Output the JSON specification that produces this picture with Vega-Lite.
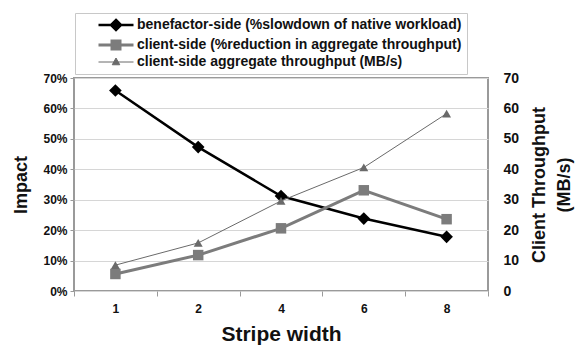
{
  "$schema": "https://vega.github.io/schema/vega-lite/v6.json",
  "width": 414,
  "height": 213,
  "autosize": {"type": "none"},
  "padding": {"left": 74, "top": 78, "right": 87, "bottom": 59},
  "background": "white",
  "datasets": {
    "impact": [
      {"stripe": 1, "series": "benefactor-side (%slowdown of native workload)", "value": 0.659},
      {"stripe": 2, "series": "benefactor-side (%slowdown of native workload)", "value": 0.473},
      {"stripe": 4, "series": "benefactor-side (%slowdown of native workload)", "value": 0.312},
      {"stripe": 6, "series": "benefactor-side (%slowdown of native workload)", "value": 0.238},
      {"stripe": 8, "series": "benefactor-side (%slowdown of native workload)", "value": 0.178},
      {"stripe": 1, "series": "client-side (%reduction in aggregate throughput)", "value": 0.056},
      {"stripe": 2, "series": "client-side (%reduction in aggregate throughput)", "value": 0.118},
      {"stripe": 4, "series": "client-side (%reduction in aggregate throughput)", "value": 0.206},
      {"stripe": 6, "series": "client-side (%reduction in aggregate throughput)", "value": 0.331},
      {"stripe": 8, "series": "client-side (%reduction in aggregate throughput)", "value": 0.236}
    ],
    "throughput": [
      {"stripe": 1, "series": "client-side aggregate throughput (MB/s)", "value": 8.5},
      {"stripe": 2, "series": "client-side aggregate throughput (MB/s)", "value": 15.8},
      {"stripe": 4, "series": "client-side aggregate throughput (MB/s)", "value": 29.6},
      {"stripe": 6, "series": "client-side aggregate throughput (MB/s)", "value": 40.6},
      {"stripe": 8, "series": "client-side aggregate throughput (MB/s)", "value": 58.3}
    ]
  },
  "config": {
    "font": "Liberation Sans",
    "view": {"stroke": "#9a9a9a", "strokeWidth": 2},
    "axis": {"labelFont": "Liberation Sans", "titleFont": "Liberation Sans", "labelFontWeight": "bold", "titleFontWeight": "bold", "labelColor": "#111", "titleColor": "#111"}
  },
  "encoding": {
    "x": {
      "field": "stripe", "type": "ordinal",
      "scale": {"type": "band", "paddingInner": 0, "paddingOuter": 0},
      "axis": {"title": "Stripe width", "labelAngle": 0, "labelFontSize": 12, "titleFontSize": 21, "titlePadding": 9, "labelPadding": 7, "tickBand": "extent", "tickColor": "#9a9a9a", "tickSize": 5, "domain": false, "grid": false}
    },
    "color": {
      "field": "series", "type": "nominal",
      "scale": {
        "domain": ["benefactor-side (%slowdown of native workload)", "client-side (%reduction in aggregate throughput)", "client-side aggregate throughput (MB/s)"],
        "range": ["#000000", "#7c7c7c", "#6a6a6a"]
      },
      "legend": {
        "orient": "none", "legendX": 1, "legendY": -65, "title": null,
        "padding": 5, "strokeColor": "#c8c8c8", "fillColor": "white",
        "labelFont": "Liberation Sans", "labelFontWeight": "bold", "labelFontSize": 14, "labelColor": "#111", "labelLimit": 400,
        "labelExpr": "datum.label + '      '",
        "symbolSize": 100, "symbolStrokeWidth": 2, "symbolOffset": 29, "labelOffset": 14, "rowPadding": 0,
        "encode": {
          "symbols": {
            "update": {
              "size": {"value": 100},
              "shape": {"signal": "datum.index == 0 ? 'M-3.5,0L3.5,0M0,-1L1,0L0,1L-1,0Z' : datum.index == 1 ? 'M-3.5,0L3.5,0M-0.8,-0.8L0.8,-0.8L0.8,0.8L-0.8,0.8Z' : 'M-3.5,0L3.5,0M0,-0.8L0.75,0.55L-0.75,0.55Z'"},
              "fill": {"signal": "datum.index == 0 ? '#000000' : datum.index == 1 ? '#7c7c7c' : '#6a6a6a'"},
              "stroke": {"signal": "datum.index == 0 ? '#000000' : datum.index == 1 ? '#7c7c7c' : '#6a6a6a'"},
              "strokeWidth": {"signal": "datum.index == 0 ? 2.5 : datum.index == 1 ? 3 : 1"},
              "opacity": {"value": 1}
            }
          }
        }
      }
    }
  },
  "layer": [
    {
      "data": {"name": "impact"},
      "encoding": {
        "y": {
          "field": "value", "type": "quantitative",
          "scale": {"domain": [0, 0.7], "nice": false},
          "axis": {"title": "Impact", "format": ".0%", "values": [0, 0.1, 0.2, 0.3, 0.4, 0.5, 0.6, 0.7], "labelFontSize": 12, "titleFontSize": 18, "titlePadding": 12, "labelPadding": 3, "tickSize": 4, "tickColor": "#9a9a9a", "domain": false, "grid": true, "gridColor": "#d6d6d6", "gridWidth": 1}
        }
      },
      "layer": [
        {
          "mark": {"type": "line"},
          "encoding": {
            "strokeWidth": {"condition": {"test": "datum.series === 'benefactor-side (%slowdown of native workload)'", "value": 2.5}, "value": 3}
          }
        },
        {
          "mark": {"type": "point", "filled": true, "opacity": 1},
          "encoding": {
            "shape": {"condition": {"test": "datum.series === 'benefactor-side (%slowdown of native workload)'", "value": "diamond"}, "value": "square"},
            "size": {"condition": {"test": "datum.series === 'benefactor-side (%slowdown of native workload)'", "value": 160}, "value": 110}
          }
        }
      ]
    },
    {
      "data": {"name": "throughput"},
      "encoding": {
        "y": {
          "field": "value", "type": "quantitative",
          "scale": {"domain": [0, 70], "nice": false},
          "axis": {"orient": "right", "title": ["Client Throughput", "(MB/s)"], "titleAngle": -90, "titleLineHeight": 25, "values": [0, 10, 20, 30, 40, 50, 60, 70], "labelFontSize": 14, "titleFontSize": 18, "titlePadding": 5, "labelPadding": 15, "ticks": false, "domain": false, "grid": false}
        }
      },
      "layer": [
        {
          "mark": {"type": "line", "strokeWidth": 1}
        },
        {
          "mark": {"type": "point", "filled": true, "opacity": 1, "shape": "triangle-up", "size": 80}
        }
      ]
    }
  ],
  "resolve": {"scale": {"y": "independent"}}
}
